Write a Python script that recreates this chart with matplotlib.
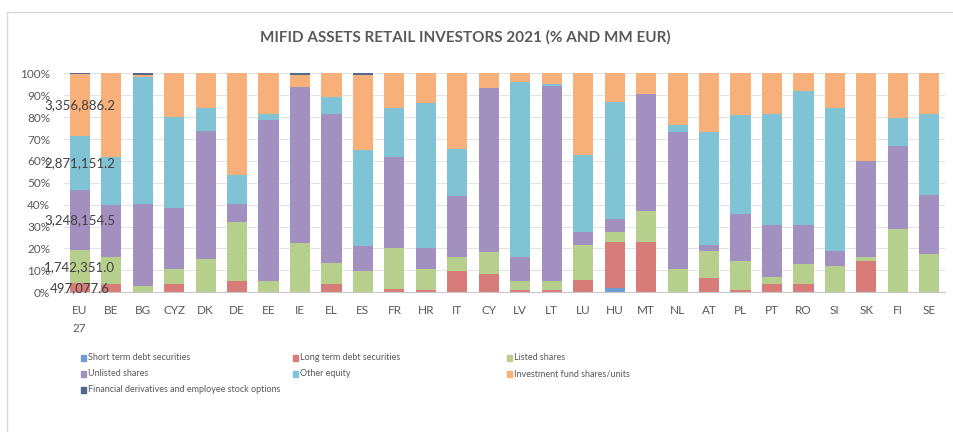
import numpy as np
import matplotlib.pyplot as plt
from matplotlib.lines import Line2D
import matplotlib.patches as mpatches

plt.rcParams['font.family'] = ['Lato', 'DejaVu Sans']

# DATA (share of assets per country, %)
countries = ['EU\n27', 'BE', 'BG', 'CYZ', 'DK', 'DE', 'EE', 'IE', 'EL', 'ES', 'FR', 'HR', 'IT', 'CY',
             'LV', 'LT', 'LU', 'HU', 'MT', 'NL', 'AT', 'PL', 'PT', 'RO', 'SI', 'SK', 'FI', 'SE']

short_debt = [0, 0, 0, 0, 0, 0, 0, 0, 0, 0, 0, 0, 0, 0,
              0, 0, 0, 2.1, 0, 0, 0, 0, 0, 0, 0, 0, 0, 0]
long_debt = [4.2, 3.7, 0, 3.7, 0, 5.2, 0, 0, 3.7, 0, 1.7, 1.1, 9.9, 8.5,
             1.1, 1.1, 5.8, 21.0, 23.1, 0, 6.5, 1.1, 3.7, 3.7, 0, 14.2, 0, 0]
listed = [14.9, 12.6, 3.0, 7.0, 15.4, 26.9, 5.2, 22.5, 9.7, 9.9, 18.7, 9.6, 6.4, 9.9,
          4.1, 4.1, 16.0, 4.3, 13.9, 10.7, 12.5, 13.1, 3.5, 9.1, 12.0, 2.1, 28.8, 17.7]
unlisted = [27.7, 23.4, 37.3, 27.7, 58.4, 8.2, 73.5, 71.4, 68.0, 11.3, 41.5, 9.7, 27.7, 74.9,
            11.1, 89.0, 5.6, 6.2, 53.6, 62.5, 2.8, 21.4, 23.5, 17.9, 7.0, 43.7, 38.2, 26.9]
other_equity = [24.5, 22.2, 58.2, 41.6, 10.5, 13.4, 2.9, 0, 7.8, 43.6, 22.4, 65.9, 21.4, 0,
                79.7, 1.1, 35.2, 53.5, 0, 3.4, 51.4, 45.2, 50.9, 61.2, 65.3, 0, 12.5, 37.0]
fund_shares = [28.6, 38.1, 0.9, 20.0, 15.7, 46.3, 18.4, 5.5, 10.8, 34.3, 15.7, 13.7, 34.6, 6.7,
               4.0, 4.7, 37.4, 12.9, 9.4, 23.4, 26.8, 19.2, 18.4, 8.1, 15.7, 40.0, 20.5, 18.4]
derivatives = [0.1, 0, 0.6, 0, 0, 0, 0, 0.6, 0, 0.9, 0, 0, 0, 0,
               0, 0, 0, 0, 0, 0, 0, 0, 0, 0, 0, 0, 0, 0]

# EU 27 amounts (MM EUR) shown as labels
eu_labels = ['', '497,077.6', '1,742,351.0', '3,248,154.5', '2,871,151.2', '3,356,886.2', '']

series_names = ['Short term debt securities', 'Long term debt securities', 'Listed shares',
                'Unlisted shares', 'Other equity', 'Investment fund shares/units',
                'Financial derivatives and employee stock options']
series = [short_debt, long_debt, listed, unlisted, other_equity, fund_shares, derivatives]
colors = ['#6E9DD6', '#D87C7A', '#B7CF8C', '#A290C0', '#80C3D5', '#F8B07A', '#50698F']

GREY = '#595959'

data = np.array(series, dtype=float)
data = data / data.sum(axis=0) * 100

fig = plt.figure(figsize=(9.54, 4.32), dpi=100)
ax = fig.add_axes([0.0671, 0.3234, 0.9235, 0.5069])

x = np.arange(len(countries))
bottom = np.zeros(len(countries))
for vals, name, col in zip(data, series_names, colors):
    ax.bar(x, vals, 0.64, bottom=bottom, color=col, label=name, zorder=2)
    bottom += vals

# EU 27 data labels
cum = np.concatenate([[0], np.cumsum(data[:, 0])])
for i, lab in enumerate(eu_labels):
    if lab:
        ax.text(x[0], (cum[i] + cum[i + 1]) / 2, lab, ha='center', va='center',
                fontsize=9.5, color='#404040', zorder=3)

ax.set_xlim(-0.5, len(countries) - 0.5)
ax.set_ylim(0, 100)
ax.set_yticks(np.arange(0, 101, 10))
ax.set_yticklabels([f'{v}%' for v in range(0, 101, 10)])
ax.set_xticks(x)
ax.set_xticklabels(countries, linespacing=1.8, va='top')
ax.tick_params(axis='both', length=0, colors=GREY, labelsize=8.5)
ax.tick_params(axis='x', pad=9)
ax.tick_params(axis='y', pad=10)
ax.yaxis.grid(True, color='#e3e3e3', linewidth=0.8, zorder=0)
ax.set_axisbelow(True)
for s in ['top', 'right', 'left']:
    ax.spines[s].set_visible(False)
ax.spines['bottom'].set_color('#c8c8c8')

fig.text(0.488, 0.913, 'MIFID ASSETS RETAIL INVESTORS 2021 (% AND MM EUR)', ha='center',
         va='center', fontsize=11, fontweight='bold', color=GREY)

# legend laid out row-wise like the original
col_x = [81, 293, 507]
row_y = [358, 374, 390]
for k, (name, col) in enumerate(zip(series_names, colors)):
    px = col_x[k % 3]
    py = row_y[k // 3]
    fig.patches.append(mpatches.Rectangle((px / 954, 1 - (py + 3) / 432), 5 / 954, 6 / 432,
                                          transform=fig.transFigure, color=col))
    fig.text((px + 7) / 954, 1 - py / 432, name, ha='left', va='center', fontsize=6.5,
             color=GREY)

# chart border
fig.add_artist(Line2D([7 / 954, 1], [1 - 12 / 432, 1 - 12 / 432], color='#d9d9d9',
                      linewidth=1, transform=fig.transFigure))
fig.add_artist(Line2D([7 / 954, 7 / 954], [0, 1 - 12 / 432], color='#d9d9d9',
                      linewidth=1, transform=fig.transFigure))

fig.savefig('out.png', dpi=100, facecolor='white')
